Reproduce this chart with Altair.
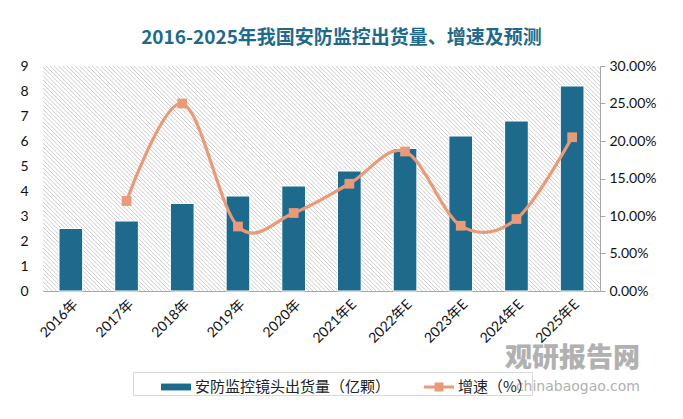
import altair as alt
import pandas as pd

# ---------------- data ----------------
years = ["2016年", "2017年", "2018年", "2019年", "2020年",
         "2021年E", "2022年E", "2023年E", "2024年E", "2025年E"]
shipments = [2.5, 2.8, 3.5, 3.8, 4.2, 4.8, 5.7, 6.2, 6.8, 8.2]
growth = [None, 0.12, 0.25, 0.086, 0.104, 0.143, 0.186, 0.087, 0.096, 0.205]
series_names = ["安防监控镜头出货量（亿颗）", "增速（%）"]
left_ticks = [0, 1, 2, 3, 4, 5, 6, 7, 8, 9]
right_ticks = [0, 0.05, 0.10, 0.15, 0.20, 0.25, 0.30]
title_text = "2016-2025年我国安防监控出货量、增速及预测"
wm_cn = "观研报告网"
wm_en = "chinabaogao.com"

# ---------------- style ----------------
BAR = "#1d6a8c"
LINE = "#e99a78"
AXIS_GRAY = "#a6a6a6"
W, H = 557, 225
LATIN = "Lato, Noto Sans CJK SC"
CJK = "Noto Sans CJK SC"

df = pd.DataFrame({"year": years, "shipments": shipments, "growth": growth})
one = pd.DataFrame({"k": [0]})
leg = pd.DataFrame({"series": series_names})

# diagonal hatch for plot background (downward diagonal lines)
N = round((W + H) / 4.2)
stops = []
for i in range(N):
    stops.append({"offset": round(i / N, 6), "color": "#ffffff"})
    stops.append({"offset": round((i + 0.22) / N, 6), "color": "#c8c8c8"})
    stops.append({"offset": round((i + 0.44) / N, 6), "color": "#ffffff"})
lam = (W + H) / (W * W + H * H)
hatch = {"gradient": "linear", "stops": stops,
         "x1": 0, "y1": 1, "x2": lam * W, "y2": 1 - lam * H}

x_enc = alt.X(
    "year:N", sort=years, title=None,
    scale=alt.Scale(paddingInner=0.575, paddingOuter=0.2875),
    axis=alt.Axis(labelAngle=-45, labelFontSize=14, labelFont=LATIN,
                  labelColor="#111111", domainColor=AXIS_GRAY, ticks=False,
                  labelPadding=6),
)

background = alt.Chart(one).mark_rect(fill=hatch, strokeWidth=0).encode(
    x=alt.value(0), x2=alt.value("width"), y=alt.value(0), y2=alt.value("height")
)

bars = alt.Chart(df).mark_bar(color=BAR, stroke="white", strokeWidth=1).encode(
    x=x_enc,
    y=alt.Y("shipments:Q", title=None,
            scale=alt.Scale(domain=[0, 9], nice=False),
            axis=alt.Axis(values=left_ticks, grid=False, domain=False, ticks=False,
                          labelFontSize=14, labelFont=LATIN, labelColor="#111111",
                          labelPadding=15)),
)

right_axis = alt.Axis(orient="right", values=right_ticks, format=".2%", grid=False,
                      domain=True, domainColor=AXIS_GRAY, ticks=True,
                      tickColor=AXIS_GRAY, tickSize=5, labelFontSize=14,
                      labelFont=LATIN, labelColor="#111111", labelPadding=4)
y_right = alt.Y("growth:Q", title=None,
                scale=alt.Scale(domain=[0, 0.3], nice=False), axis=right_axis)

line = alt.Chart(df).mark_line(color=LINE, strokeWidth=3.2, interpolate="cardinal").encode(
    x=x_enc, y=y_right
)
points = alt.Chart(df).mark_square(color=LINE, size=95, opacity=1).encode(
    x=x_enc, y=y_right
)
growth_layer = alt.layer(line, points)

wm1 = alt.Chart(one).mark_text(text=wm_cn, font=CJK, fontSize=27, fontWeight=900,
                               color="#a9a9a9", align="right", baseline="middle",
                               opacity=0.9).encode(
    x=alt.value(597), y=alt.value(293))
wm2 = alt.Chart(one).mark_text(text=wm_en, font="DejaVu Sans", fontSize=14,
                               color="#a9a9a9", align="right", baseline="middle",
                               opacity=0.9).encode(
    x=alt.value(597), y=alt.value(321))

legend_def = alt.Legend(
    title=None, orient="none", legendX=90, legendY=306, direction="horizontal",
    labelFontSize=15, labelFont=CJK, labelColor="#222222", labelLimit=400,
    symbolSize=900, symbolStrokeWidth=0, symbolOpacity=1, padding=0,
    strokeColor="#d9d9d9", columnPadding=5, symbolOffset=28, labelOffset=4,
)
legend_layer = alt.Chart(leg).mark_point(filled=True, opacity=0).encode(
    x=alt.value(0), y=alt.value(0),
    color=alt.Color("series:N", sort=series_names,
                    scale=alt.Scale(domain=series_names, range=[BAR, LINE]),
                    legend=legend_def),
    shape=alt.Shape("series:N", sort=series_names,
                    scale=alt.Scale(domain=series_names, range=[
                        "M-1,-0.23H1V0.23H-1Z",
                        "M-1,-0.1H1V0.1H-1Z M-0.3,-0.3H0.3V0.3H-0.3Z"]),
                    legend=legend_def),
)

chart = alt.layer(background, bars, growth_layer, wm1, wm2, legend_layer).resolve_scale(
    y="independent"
).properties(
    width=W, height=H,
    autosize=alt.AutoSizeParams(type="none"),
    padding={"left": 35, "top": 58, "right": 75, "bottom": 120},
    background="white",
    title=alt.TitleParams(title_text, fontSize=19, font=CJK, fontWeight="bold",
                          color="#1f6a8a", anchor="middle", baseline="middle",
                          offset=2, dx=20),
).configure_view(stroke=None)

chart.save("out.html", embed_options={"renderer": "svg", "actions": False})
